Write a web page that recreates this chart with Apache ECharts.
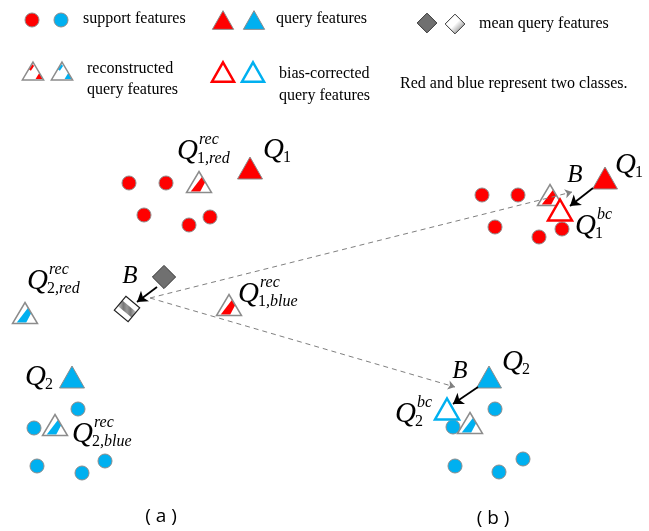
<!DOCTYPE html>
<html><head><meta charset="utf-8">
<script src="https://cdn.jsdelivr.net/npm/echarts@6/dist/echarts.min.js"></script>
<style>html,body{margin:0;padding:0;background:#fff}#c{width:649px;height:531px}</style>
</head><body><div id="c"></div>
<script>
// ---------- data (diagram coordinates) ----------
const redSupportA = [[129,183],[166,183],[144,215],[189,225],[210,217]];
const blueSupportA = [[78,409],[34,428],[37,466],[82,473],[105,461]];
const redSupportB = [[482,195],[518,195],[495,227],[539,237],[562,229]];
const blueSupportB = [[495,409],[453,427],[455,466],[499,472],[523,459]];
const redQuery = [[250,168],[605,178]];
const blueQuery = [[72,377],[489,377]];
const redRecon = [[199,182],[229,305],[550,195]];
const blueRecon = [[25,313],[55,425],[470,423]];
const redBiasCorrected = [[560,210]];
const blueBiasCorrected = [[447,409]];
const meanQuery = [[164,277]];
const meanRecon = [[127,309]];
const biasArrows = [[[157,287],[137,302]],[[593,188],[570,206]],[[478,387],[453,404]]];
const transferLines = [[[150,298],[572,192]],[[150,298],[455,387]]];
const bLabels = [[130,276],[575,175],[460,371]];
const qLabels = [
  {at:[177,151], sub:'1', subIt:',red', sup:'rec'},
  {at:[263,150], sub:'1', subIt:'', sup:''},
  {at:[27,281],  sub:'2', subIt:',red', sup:'rec'},
  {at:[238,294], sub:'1', subIt:',blue', sup:'rec'},
  {at:[25,377],  sub:'2', subIt:'', sup:''},
  {at:[72,434],  sub:'2', subIt:',blue', sup:'rec'},
  {at:[615,165], sub:'1', subIt:'', sup:''},
  {at:[575,226], sub:'1', subIt:'', sup:'bc'},
  {at:[502,362], sub:'2', subIt:'', sup:''},
  {at:[395,414], sub:'2', subIt:'', sup:'bc'}
];
const legendTexts = ['support features','query features','mean query features','reconstructed','query features','bias-corrected','query features','Red and blue represent two classes.'];
const panelCaptions = ['( a )','( b )'];

// ---------- styling ----------
const RED='#ff0000', BLUE='#00b0f0', EDGE='#8c8c8c';
const SERIF='"Liberation Serif","Times New Roman",serif';
const cv=document.createElement('canvas').getContext('2d');
function measure(t,font){cv.font=font;return cv.measureText(t).width;}

function triPts(x,y,w,h){return [[x,y-h/2],[x+w/2,y+h/2],[x-w/2,y+h/2]];}
function circ(x,y,c,r){return [{type:'circle',shape:{cx:x,cy:y,r:r},style:{fill:c,stroke:EDGE,lineWidth:1}}];}
function fTri(x,y,c,k){const w=25*k,h=22*k;return [{type:'polygon',shape:{points:triPts(x,y,w,h)},style:{fill:c,stroke:EDGE,lineWidth:1}}];}
function bcTri(x,y,c,k){const w=24*k,h=21*k;return [{type:'polygon',shape:{points:triPts(x,y,w,h)},style:{fill:'#fff',stroke:c,lineWidth:2.5}}];}
function recTri(x,y,c,k,legend){
  const w=25*k,h=21*k;
  const els=[{type:'polygon',shape:{points:triPts(x,y,w,h)},style:{fill:'#fff',stroke:null}}];
  if(!legend){
    els.push({type:'polygon',shape:{points:[[x-0.33*w,y+h/2-1],[x+0.05*w,y+h/2-1],[x+0.25*w,y-0.0*h],[x+0.13*w,y-0.26*h]]},style:{fill:c}});
  } else {
    els.push({type:'polygon',shape:{points:[[x+0.12*w,y+h/2-1],[x+0.45*w,y+h/2-1],[x+0.3*w,y+0.1*h]]},style:{fill:c}});
    els.push({type:'polygon',shape:{points:[[x-0.02*w,y-0.38*h],[x+0.05*w,y-0.28*h],[x-0.1*w,y-0.02*h],[x-0.2*w,y-0.1*h]]},style:{fill:c}});
  }
  els.push({type:'polygon',shape:{points:triPts(x,y,w,h)},style:{fill:null,stroke:EDGE,lineWidth:1.5}});
  return els;
}
function rot(x,y,s,th,pts){const c=Math.cos(th),sn=Math.sin(th);return pts.map(([a,b])=>[x+(a*c-b*sn)*s,y+(a*sn+b*c)*s]);}
const SQ=[[-1,-1],[1,-1],[1,1],[-1,1]];
function grayDiamond(x,y,k){return [{type:'polygon',shape:{points:rot(x,y,8.2*k,Math.PI/4,SQ)},style:{fill:'#707070',stroke:'#333',lineWidth:1}}];}
function whiteDiamond(x,y,k){
  const th=40*Math.PI/180,s=9*k;
  return [
    {type:'polygon',shape:{points:rot(x,y,s,th,SQ)},style:{fill:'#fff'}},
    {type:'polygon',shape:{points:rot(x,y,s,th,[[-1,-0.4],[1,-0.4],[1,0.4],[-1,0.4]])},
      style:{fill:{type:'linear',x:0,y:0,x2:1,y2:0,colorStops:[{offset:0,color:'#ccc'},{offset:0.3,color:'#777'},{offset:0.5,color:'#999'},{offset:0.7,color:'#777'},{offset:1,color:'#ccc'}]}}},
    {type:'polygon',shape:{points:rot(x,y,s,th,SQ)},style:{fill:null,stroke:'#222',lineWidth:1.2}}
  ];
}
function legendWhiteDiamond(x,y,k){
  return [{type:'polygon',shape:{points:rot(x,y,8.2*k,Math.PI/4,SQ)},
    style:{fill:{type:'linear',x:0,y:0,x2:1,y2:1,colorStops:[{offset:0,color:'#fff'},{offset:0.5,color:'#fff'},{offset:0.7,color:'#bbb'},{offset:1,color:'#777'}]},stroke:'#333',lineWidth:1}}];
}
function txt(x,y,t,font,align,extra){
  return Object.assign({type:'text',x:x,y:y,style:{text:t,font:font,fill:'#000',textAlign:align||'left',align:align||'left',textVerticalAlign:'middle',verticalAlign:'middle'}},extra||{});
}

function glyphSeries(data,draw,z){
  return {type:'custom',coordinateSystem:'cartesian2d',data:data,z:z,silent:true,encode:{x:0,y:1},
    renderItem:function(params,api){const p=api.coord([api.value(0),api.value(1)]);return {type:'group',children:draw(p[0],p[1],params.dataIndex)};}};
}

function qLabel(x,y,i){
  const L=qLabels[i];
  const fQ='italic 29px '+SERIF, fS='italic 16px '+SERIF, fN='16px '+SERIF;
  const qw=measure('Q',fQ);
  const els=[txt(x,y,'Q',fQ)];
  const sx=x+qw-1;
  if(L.sup) els.push(txt(sx+2,y-11,L.sup,fS));
  els.push(txt(sx,y+8,L.sub,fN));
  if(L.subIt) els.push(txt(sx+measure(L.sub,fN),y+8,L.subIt,fS));
  return els;
}

function lineSeries(data,color,width,type,arrow,z){
  return {type:'lines',coordinateSystem:'cartesian2d',z:z,silent:true,symbol:['none','arrow'],symbolSize:arrow,
    lineStyle:{color:color,width:width,type:type,opacity:1},
    data:data.map(d=>({coords:d}))};
}

// ---------- legend (layout) ----------
const LG=[];
const pushAll=a=>a.forEach(e=>LG.push(e));
pushAll(circ(32,20,RED,7)); pushAll(circ(61,20,BLUE,7));
pushAll(fTri(223,20,RED,0.85)); pushAll(fTri(254,20,BLUE,0.85));
pushAll(grayDiamond(427,23,0.85)); pushAll(legendWhiteDiamond(455,24,0.85));
pushAll(recTri(33,71,RED,0.85,true)); pushAll(recTri(62,71,BLUE,0.85,true));
pushAll(bcTri(223,72,RED,0.92)); pushAll(bcTri(253,72,BLUE,0.92));
const LF='16px '+SERIF;
const legendPos=[[83,19],[276,19],[479,24],[87,69],[87,90],[279,74],[279,96],[400,84]];
legendPos.forEach((p,i)=>LG.push(txt(p[0],p[1],legendTexts[i],LF,'left')));
LG.push(txt(161,517,panelCaptions[0],'19px "Open Sans",sans-serif','center'));
LG.push(txt(493,519,panelCaptions[1],'19px "Open Sans",sans-serif','center'));

const chart=echarts.init(document.getElementById('c'),null,{renderer:'canvas'});
chart.setOption({
  animation:false,
  backgroundColor:'#fff',
  grid:{left:0,right:0,top:0,bottom:0},
  xAxis:{type:'value',min:0,max:649,show:false},
  yAxis:{type:'value',min:0,max:531,inverse:true,show:false},
  graphic:{elements:LG},
  series:[
    glyphSeries(redSupportA.concat(redSupportB),(x,y)=>circ(x,y,RED,7),2),
    glyphSeries(blueSupportA.concat(blueSupportB),(x,y)=>circ(x,y,BLUE,7),2),
    glyphSeries(redRecon,(x,y)=>recTri(x,y,RED,1,false),3),
    glyphSeries(blueRecon,(x,y)=>recTri(x,y,BLUE,1,false),3),
    lineSeries(transferLines,'#808080',1,[5,4],[0,7],4),
    glyphSeries(redBiasCorrected,(x,y)=>bcTri(x,y,RED,1),5),
    glyphSeries(blueBiasCorrected,(x,y)=>bcTri(x,y,BLUE,1),5),
    glyphSeries(redQuery,(x,y)=>fTri(x,y,RED,1),5),
    glyphSeries(blueQuery,(x,y)=>fTri(x,y,BLUE,1),5),
    glyphSeries(meanQuery,(x,y)=>grayDiamond(x,y,1),5),
    glyphSeries(meanRecon,(x,y)=>whiteDiamond(x,y,1),5),
    lineSeries(biasArrows,'#000',1.8,'solid',[0,10],6),
    glyphSeries(bLabels,(x,y)=>[txt(x,y,'B','italic 25px '+SERIF,'center')],7),
    glyphSeries(qLabels.map(l=>l.at),(x,y,i)=>qLabel(x,y,i),7)
  ]
});
</script></body></html>
